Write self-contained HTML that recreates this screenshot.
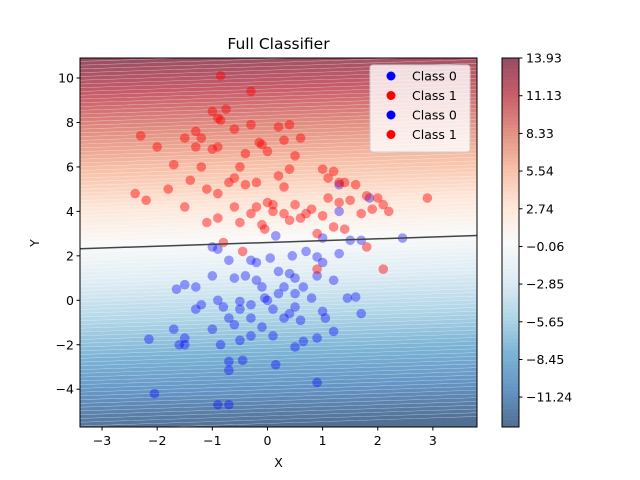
<!DOCTYPE html>
<html><head><meta charset="utf-8"><style>
html,body{margin:0;padding:0;background:#fff;width:640px;height:480px;overflow:hidden;font-family:"Liberation Sans","DejaVu Sans",sans-serif}
svg{display:block}
text{font-family:"DejaVu Sans","Liberation Sans",sans-serif}
</style></head><body>
<svg id="c" width="640" height="480" xmlns="http://www.w3.org/2000/svg">
<defs><clipPath id="clip"><rect x="80" y="58" width="397" height="369"/></clipPath>
<clipPath id="cbclip"><rect x="502" y="58" width="17" height="369"/></clipPath></defs>
<g id="bands" clip-path="url(#clip)"></g>
<g id="cb" clip-path="url(#cbclip)"></g>
<g id="pts" clip-path="url(#clip)"></g>
<g id="bline" clip-path="url(#clip)"></g>
<g id="axes"></g>
</svg>
<script>
const xDomain=[-3.4,3.8], yDomain=[-5.7,10.9];
const boundaryIntercept=2.6, boundarySlope=0.083, gain=1.62;
const cbMin=-13.46, cbMax=13.93;
const xTicks=[-3,-2,-1,0,1,2,3];
const yTicks=[-4,-2,0,2,4,6,8,10];
const cbTicks=["13.93","11.13","8.33","5.54","2.74","−0.06","−2.85","−5.65","−8.45","−11.24"];
const cbTickVals=[13.93,11.13,8.33,5.54,2.74,-0.06,-2.85,-5.65,-8.45,-11.24];
const class1X=[-0.85,-0.3,-1.0,-0.75,-0.85,-0.9,-0.3,-0.6,0.4,0.2,0.6,-1.3,-1.5,-1.2,-2.3,-2.0,-1.3,-1.0,-0.9,-0.15,-0.1,0.0,0.3,-0.4,0.5,-1.7,-1.2,-0.5,-0.6,0.2,0.4,1.0,1.2,1.1,1.3,1.6,1.4,0.3,-0.2,-0.4,-0.7,-1.4,-1.8,-1.1,-0.9,-2.4,-2.2,-1.5,-0.6,-0.2,0.0,0.1,0.5,0.8,1.1,1.3,1.5,1.8,2.0,2.1,1.9,2.2,1.7,2.9,0.4,0.6,-0.5,-0.9,-1.1,-0.05,-0.1,0.9,1.4,1.2,-0.45,-0.8,1.8,2.1,0.9,0.1,-0.3,0.7,0.3,1.0];
const class1Y=[10.1,9.4,8.5,8.6,8.1,8.2,7.9,7.7,7.9,7.8,7.3,7.6,7.3,7.3,7.4,6.9,6.9,6.8,6.9,7.1,7.0,6.7,7.2,6.6,6.5,6.1,6.0,6.0,5.5,5.6,5.9,5.9,5.8,5.5,5.3,5.2,5.3,5.1,5.3,5.2,5.3,5.4,5.0,5.0,4.8,4.8,4.5,4.2,4.2,4.2,4.4,4.3,4.3,4.1,4.6,4.4,4.5,4.7,4.6,4.3,4.1,4.0,3.9,4.6,3.6,3.7,3.5,3.7,3.5,3.2,3.4,3.0,3.2,3.3,2.2,2.6,2.4,1.4,1.4,4.0,3.9,3.9,3.9,3.8];
const class0X=[-0.9,-0.7,-2.05,0.9,-0.7,-0.45,-0.7,0.15,0.5,0.65,-1.5,-1.6,-2.15,-1.5,-1.7,-0.5,-0.85,-0.3,0.1,-0.1,0.9,1.2,1.7,1.6,1.45,1.0,1.05,0.5,0.4,-0.3,-0.7,-1.0,-1.3,-0.8,-0.5,-0.3,0.0,0.2,0.5,0.8,-0.9,-1.5,-1.3,-1.65,-1.0,-0.6,-0.4,-0.1,0.3,0.5,0.9,1.2,1.0,0.7,0.9,0.4,-0.2,-0.3,-0.7,-1.0,1.3,1.5,2.45,1.7,-0.05,0.1,-0.6,-0.2,0.05,0.65,0.15,1.3,1.3,1.85,-0.5,0.3,-1.2,0.6,0.2,0.45,-0.9,1.0];
const class0Y=[-4.7,-4.7,-4.2,-3.7,-3.15,-2.7,-2.75,-2.9,-2.1,-1.85,-2.0,-2.0,-1.75,-1.7,-1.3,-1.8,-2.0,-1.6,-1.6,-1.2,-1.7,-1.4,-0.6,0.15,0.1,-0.5,-0.8,-0.3,-0.6,-0.8,-0.8,-1.3,-0.4,-0.3,-0.4,-0.2,0.0,0.3,0.3,0.1,0.0,0.7,0.6,0.5,1.1,1.0,1.1,0.6,0.6,1.0,1.1,0.9,1.7,2.2,1.95,1.2,1.7,1.8,1.8,2.4,2.1,2.7,2.8,2.7,0.1,-0.4,-1.1,0.9,1.9,0.6,2.9,4.0,5.2,4.6,-0.05,-0.8,-0.2,-0.9,1.3,2.0,2.3,2.8];

const NS="http://www.w3.org/2000/svg";
const X0=80,X1=477,Y0=58,Y1=427;
const sx=v=>X0+(v-xDomain[0])/(xDomain[1]-xDomain[0])*(X1-X0);
const sy=v=>Y1-(v-yDomain[0])/(yDomain[1]-yDomain[0])*(Y1-Y0);
const stops=[[5,48,97],[33,102,172],[67,147,195],[146,197,222],[209,229,240],[247,247,247],[253,219,199],[244,165,130],[214,96,77],[178,24,43],[103,0,31]];
function cmap(t,a){t=Math.max(0,Math.min(1,t))*10;const i=Math.min(9,Math.floor(t)),f=t-i;
 const c=stops[i].map((v,k)=>v+(stops[i+1][k]-v)*f).map(v=>Math.round(255+(v-255)*a));return `rgb(${c})`;}
const norm=v=>(v-cbMin)/(cbMax-cbMin);
function el(t,at,p){const e=document.createElementNS(NS,t);for(const k in at)e.setAttribute(k,at[k]);p.appendChild(e);return e;}
const bands=document.getElementById('bands'),cb=document.getElementById('cb');
const N=100;
const ya=(x,l)=>boundaryIntercept+boundarySlope*x+l/gain;
for(let i=0;i<N;i++){
 let l0=cbMin+(cbMax-cbMin)*i/N,l1=cbMin+(cbMax-cbMin)*(i+1)/N;const mid=(l0+l1)/2;
 if(i===0)l0-=1; if(i===N-1)l1+=1;
 const xa=xDomain[0],xb=xDomain[1];
 const pts=[[xa,ya(xa,l0)],[xb,ya(xb,l0)],[xb,ya(xb,l1)],[xa,ya(xa,l1)]].map(p=>sx(p[0])+','+sy(p[1])).join(' ');
 const b=el('polygon',{points:pts,fill:cmap(norm(mid),0.7),stroke:'rgba(255,255,255,0.25)','stroke-width':0.6},bands);
 
 
 const cy0=Y1-(Y1-Y0)*i/N,cy1=Y1-(Y1-Y0)*(i+1)/N;
 const r=el('rect',{x:502,y:cy1,width:17,height:cy0-cy1+0.3,fill:cmap(norm(mid),0.7)},cb);
 
 
}
const pg=document.getElementById('pts');
function drawPts(xs,ys,cls){for(let i=0;i<xs.length;i++){
 const c=el('circle',{cx:sx(xs[i]),cy:sy(ys[i]),r:4.8,fill:cls?'#ff0000':'#0000ff','fill-opacity':cls?0.45:0.38},pg);
 
 }}
drawPts(class0X,class0Y,0);drawPts(class1X,class1Y,1);
const bl=el('line',{x1:sx(xDomain[0]),y1:sy(ya(xDomain[0],0)),x2:sx(xDomain[1]),y2:sy(ya(xDomain[1],0)),stroke:'#444','stroke-width':1.5},document.getElementById('bline'));


const ax=document.getElementById('axes');
el('rect',{x:X0,y:Y0,width:X1-X0,height:Y1-Y0,fill:'none',stroke:'#000','stroke-width':1},ax);
el('rect',{x:502,y:Y0,width:17,height:Y1-Y0,fill:'none',stroke:'#000','stroke-width':1},ax);
function txt(s,at,name){const t=el('text',Object.assign({'font-size':13.9,fill:'#000'},at),ax);t.textContent=s;
 return t;}
xTicks.forEach(v=>{const x=sx(v);el('line',{x1:x,x2:x,y1:Y1,y2:Y1+3.5,stroke:'#000'},ax);txt(v<0?'−'+(-v):''+v,{x:x,y:Y1+18,'text-anchor':'middle','font-size':12.5},'x-tick-label');});
yTicks.forEach(v=>{const y=sy(v);el('line',{x1:X0-3.5,x2:X0,y1:y,y2:y,stroke:'#000'},ax);txt(v<0?'−'+(-v):''+v,{x:X0-6,y:y+4.5,'text-anchor':'end','font-size':12.5},'y-tick-label');});
cbTickVals.forEach((v,i)=>{const y=Y1-norm(v)*(Y1-Y0);el('line',{x1:519,x2:522.5,y1:y,y2:y,stroke:'#000'},ax);txt(cbTicks[i],{x:526,y:y+4.5,'font-size':12.5},'colorbar-tick-label');});
txt('Full Classifier',{x:278.5,y:49,'text-anchor':'middle','font-size':15.5},'chart-title');
txt('X',{x:278.5,y:467,'text-anchor':'middle','font-size':12.5},'x-axis-title');
txt('Y',{x:39,y:243,'text-anchor':'middle','font-size':12.5,transform:'rotate(-90 39 243)'},'y-axis-title');
const lg=el('g',{},ax);
el('rect',{x:370,y:65,width:100,height:87,rx:3,fill:'rgba(255,255,255,0.8)',stroke:'#ccc'},lg);
const legendLabels=['Class 0','Class 1','Class 0','Class 1'],legendColors=['#0000ff','#ff0000','#0000ff','#ff0000'];
legendLabels.forEach((s,i)=>{const y=76+i*19.5;el('circle',{cx:391,cy:y,r:4.5,fill:legendColors[i]},lg);
 const t=el('text',{x:412,y:y+4.5,'font-size':12.5},lg);t.textContent=s;
 });
</script>
</body></html>
